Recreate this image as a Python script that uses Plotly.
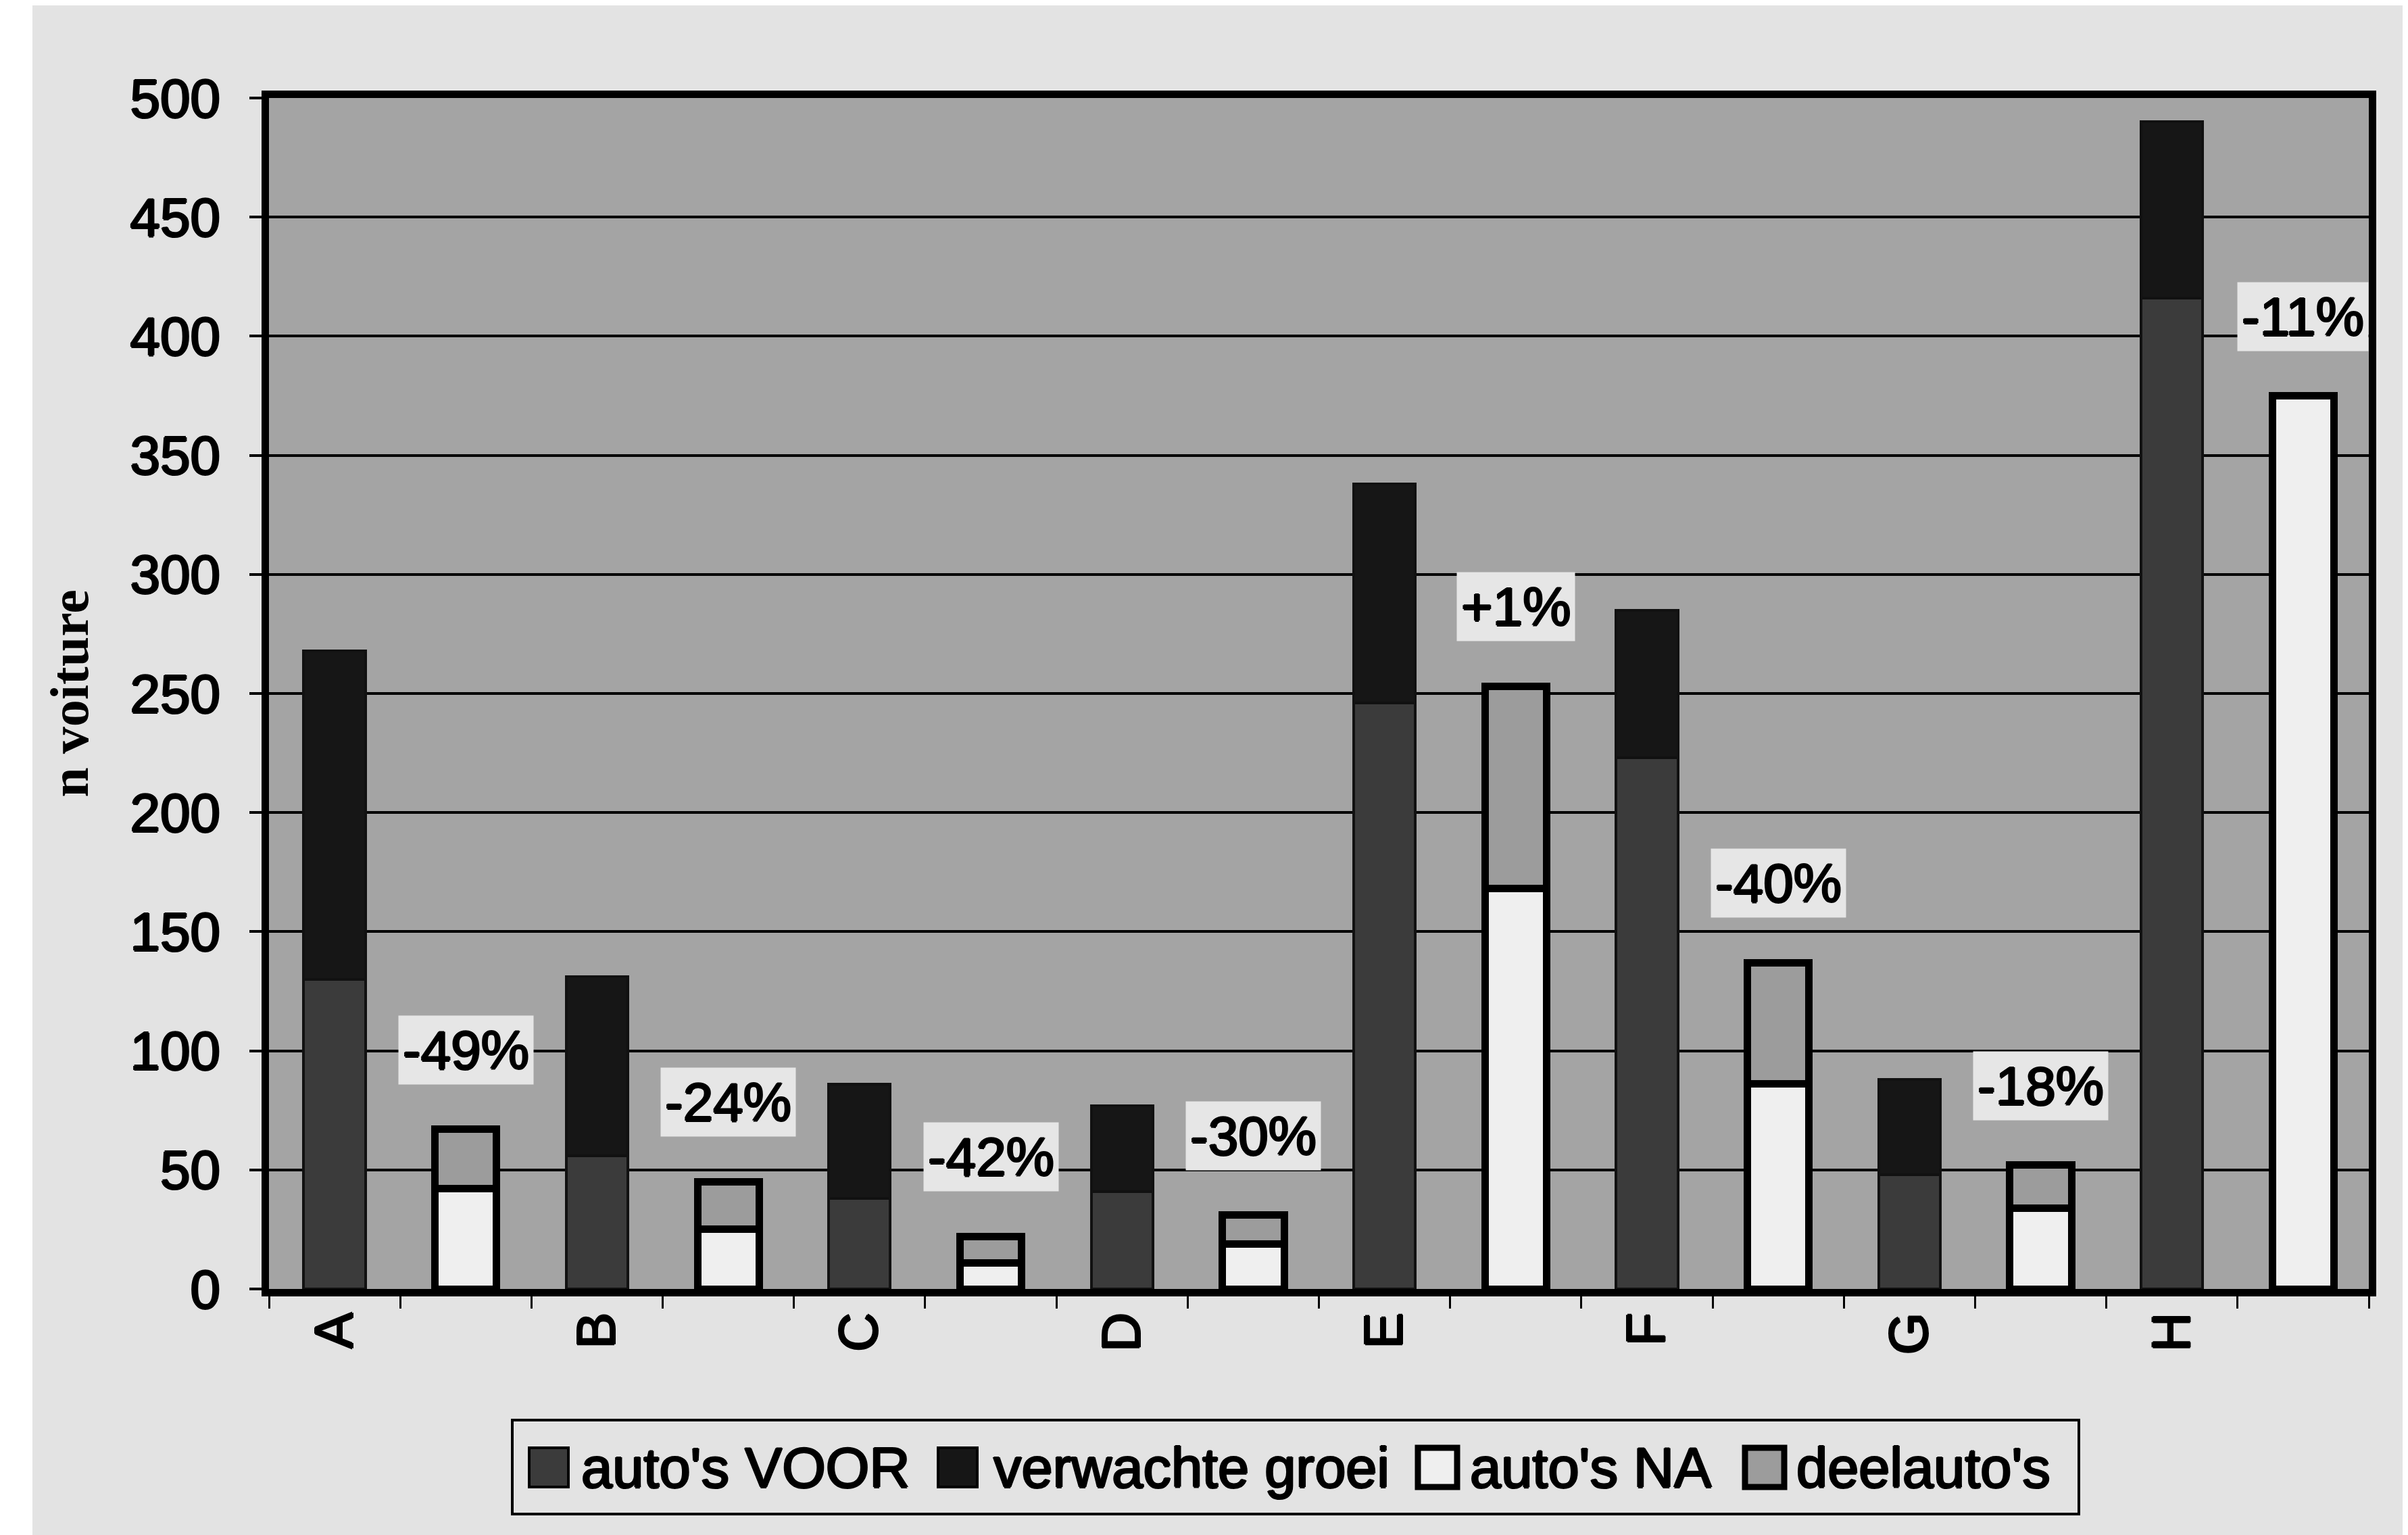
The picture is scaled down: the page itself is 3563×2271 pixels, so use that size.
import plotly.graph_objects as go

# ---- data ----
locations = ["A", "B", "C", "D", "E", "F", "G", "H"]
autos_voor = [130, 56, 38, 41, 246, 223, 48, 416]
verwachte_groei = [138, 75, 48, 36, 92, 62, 40, 74]
autos_na = [42, 25, 11, 19, 168, 86, 34, 375]
deelautos = [25, 20, 11, 12, 85, 51, 18, 0]
pct_labels = ["-49%", "-24%", "-42%", "-30%", "+1%", "-40%", "-18%", "-11%"]
y_ticks = [0, 50, 100, 150, 200, 250, 300, 350, 400, 450, 500]
legend_names = ["auto's VOOR", "verwachte groei", "auto's NA", "deelauto's"]

# ---- styles ----
W, H = 3563, 2271
ML, MR, MT, MB = 390, 66, 137, 372
PW, PH = W - ML - MR, H - MT - MB
FONT = "Liberation Sans, Arial, sans-serif"
SHADOW = "1.5px 0 0 #000, -1.5px 0 0 #000, 0 1.5px 0 #000, 0 -1.5px 0 #000"
C_VOOR, C_GROEI, C_NA, C_DEEL = "#3b3b3b", "#161616", "#efefef", "#9c9c9c"
PAGE_BG, PLOT_BG = "#e3e3e3", "#a4a4a4"


def tfont(size):
    return dict(family=FONT, size=size, color="#000000", shadow=SHADOW)


after_x = [l + " NA" for l in locations]
order, ticktext = [], []
for b, a in zip(locations, after_x):
    order += [b, a]
    ticktext += [b, ""]

fig = go.Figure()
fig.add_trace(go.Bar(x=locations, y=autos_voor, name=legend_names[0], showlegend=False,
                     marker=dict(color=C_VOOR, line=dict(color="#111111", width=4))))
fig.add_trace(go.Bar(x=locations, y=verwachte_groei, name=legend_names[1], showlegend=False,
                     marker=dict(color=C_GROEI, line=dict(color="#111111", width=4))))
fig.add_trace(go.Bar(x=after_x, y=autos_na, name=legend_names[2], showlegend=False,
                     marker=dict(color=C_NA, line=dict(color="#000000", width=11))))
fig.add_trace(go.Bar(x=after_x, y=deelautos, name=legend_names[3], showlegend=False,
                     marker=dict(color=C_DEEL, line=dict(color="#000000", width=11))))

# percentage labels above the "after" bars
for xa, na, de, lab in zip(after_x, autos_na, deelautos, pct_labels):
    fig.add_annotation(x=xa, y=na + de, text=lab, showarrow=False, yanchor="bottom",
                       yshift=66, bgcolor="#e6e6e6", borderpad=6, font=tfont(80))

# manual legend (pixel layout converted to paper coords)
def px(x):
    return (x - ML) / PW


def py(y):
    return (MT + PH - y) / PH


fig.add_shape(type="rect", xref="paper", yref="paper", x0=px(750), x1=px(3068),
              y0=py(2232), y1=py(2093), line=dict(color="#000000", width=4),
              fillcolor=PAGE_BG, layer="above")
sw_x = [775, 1380, 2090, 2574]
tx_x = [850, 1460, 2165, 2648]
sw_fill = [C_VOOR, C_GROEI, C_NA, C_DEEL]
sw_lw = [4, 4, 9, 9]
for sx, tx, fc, lw, nm in zip(sw_x, tx_x, sw_fill, sw_lw, legend_names):
    fig.add_shape(type="rect", xref="paper", yref="paper", x0=px(sx), x1=px(sx + 58),
                  y0=py(2192), y1=py(2134), fillcolor=fc,
                  line=dict(color="#000000", width=lw), layer="above")
    fig.add_annotation(xref="paper", yref="paper", x=px(tx), y=py(2163), text=nm,
                       showarrow=False, xanchor="left", yanchor="middle", font=tfont(83))

# white scan strip at left edge
fig.add_shape(type="rect", xref="paper", yref="paper", x0=px(0), x1=px(40),
              y0=py(H), y1=py(0), fillcolor="#ffffff", line=dict(width=0), layer="below")

fig.update_layout(
    width=W, height=H,
    margin=dict(l=ML, r=MR, t=MT, b=MB),
    paper_bgcolor=PAGE_BG, plot_bgcolor=PLOT_BG,
    barmode="stack", bargap=0.53,
    font=dict(family=FONT, size=80, color="#000000"),
    showlegend=False,
    xaxis=dict(type="category", categoryorder="array", categoryarray=order,
               tickvals=order, ticktext=ticktext, tickson="boundaries",
               ticks="outside", ticklen=18, tickwidth=3, tickcolor="#000000",
               tickangle=-90, tickfont=tfont(80), ticklabelstandoff=-8,
               showline=True, linewidth=11, linecolor="#000000", mirror=True,
               showgrid=False, range=[-0.5, 15.5]),
    yaxis=dict(range=[0, 500], tickvals=y_ticks, showgrid=True, gridcolor="#000000",
               gridwidth=4, zeroline=False, ticks="outside", ticklen=18, tickwidth=4,
               tickcolor="#000000", tickfont=tfont(80), ticklabelstandoff=27,
               showline=True, linewidth=11, linecolor="#000000", mirror=True,
               title=dict(text="<b>n voiture</b>", standoff=40,
                          font=dict(family="Liberation Serif, Times New Roman, serif",
                                    size=80, color="#000000"))),
)

fig.write_html("out.html")
